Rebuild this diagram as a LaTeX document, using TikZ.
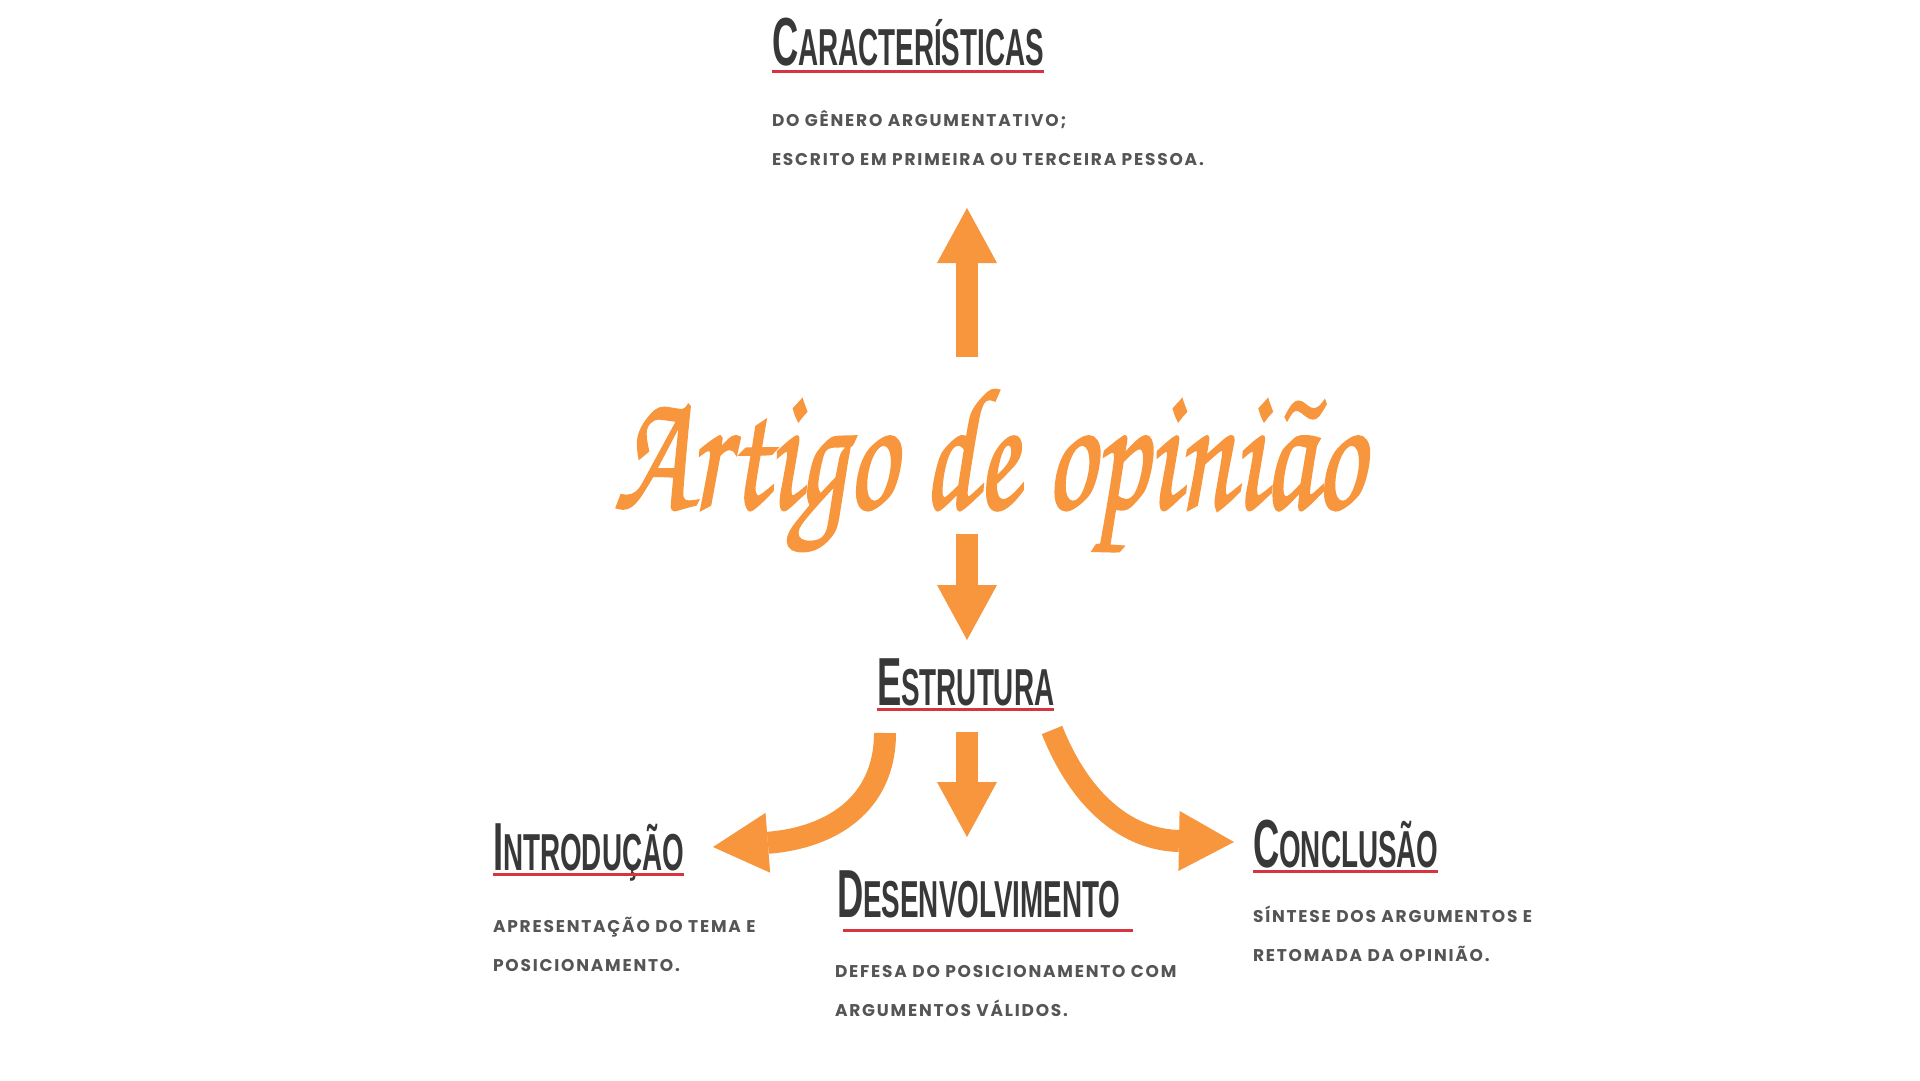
\documentclass[tikz,border=0pt]{standalone}
\usepackage{fontspec}
\usepackage{graphicx}
\usetikzlibrary{arrows.meta,calc}
\newfontfamily\titfont{Liberation Sans}[FakeStretch=0.535]
\newfontfamily\bodyfont{Poppins}[LetterSpace=10.5]
\newfontfamily\artfont{texgyrechorus-mediumitalic.otf}[FakeBold=1.5]
\definecolor{arrorange}{HTML}{F7963D}
\definecolor{titgray}{HTML}{383838}
\definecolor{bodygray}{HTML}{555555}
\definecolor{ulred}{HTML}{D8343F}
\newcommand\ttlt[2]{\fontsize{68}{68}\selectfont #1\fontsize{52}{52}\selectfont #2}
\tikzset{
  ttl/.style={anchor=base west, inner sep=0pt, outer sep=0pt, text=titgray, font=\titfont\bfseries},
  bodytxt/.style={anchor=base west, inner sep=0pt, outer sep=0pt, text=bodygray, font=\bodyfont\bfseries\fontsize{17}{17}\selectfont},
  uline/.style={draw=ulred, line width=3pt},
  bigarrow/.style={draw=arrorange, line width=22pt, -{Triangle[width=60pt,length=55pt,line width=0pt]}},
}
\begin{document}
\begin{tikzpicture}[x=1pt,y=-1pt]
\useasboundingbox[fill=white] (0,0) rectangle (1920,1080);

% central title
\node[anchor=base west, inner sep=0pt, outer sep=0pt, text=arrorange] (art) at (614,508)
  {\resizebox{749pt}{118pt}{\artfont Artigo de opinião}};

% Caracteristicas
\node[ttl] (carac) at (772,65) {\ttlt{C}{ARACTERÍSTICAS}};
\draw[uline] ($(carac.base west)+(0,6)$) -- ($(carac.base east)+(0,6)$);
\node[bodytxt] (carac1) at (772,126) {DO GÊNERO ARGUMENTATIVO;};
\node[bodytxt] (carac2) at (772,165) {ESCRITO EM PRIMEIRA OU TERCEIRA PESSOA.};

% Estrutura
\node[ttl] (estr) at (877,705) {\ttlt{E}{STRUTURA}};
\draw[uline] ($(estr.base west)+(0,4)$) -- ($(estr.base east)+(0,4)$);

% Introducao
\node[ttl] (intro) at (493,870) {\ttlt{I}{NTRODUÇÃO}};
\draw[uline] ($(intro.base west)+(0,4)$) -- ($(intro.base east)+(0,4)$);
\node[bodytxt] (intro1) at (493,932) {APRESENTAÇÃO DO TEMA E};
\node[bodytxt] (intro2) at (493,971) {POSICIONAMENTO.};

% Desenvolvimento
\node[ttl] (desen) at (837,917) {\ttlt{D}{ESENVOLVIMENTO}};
\draw[uline] ($(desen.base west)+(6,13)$) -- ($(desen.base east)+(13,13)$);
\node[bodytxt] (desen1) at (835,977) {DEFESA DO POSICIONAMENTO COM};
\node[bodytxt] (desen2) at (835,1016) {ARGUMENTOS VÁLIDOS.};

% Conclusao
\node[ttl] (concl) at (1253,867) {\ttlt{C}{ONCLUSÃO}};
\draw[uline] ($(concl.base west)+(0,4)$) -- ($(concl.base east)+(0,4)$);
\node[bodytxt] (concl1) at (1253,922) {SÍNTESE DOS ARGUMENTOS E};
\node[bodytxt] (concl2) at (1253,961) {RETOMADA DA OPINIÃO.};

% arrow end points
\coordinate (upS) at (967,357);
\coordinate (upE) at (967,208);
\coordinate (dnS) at (967,534);
\coordinate (dnE) at (967,640);
\coordinate (midS) at (967,732);
\coordinate (midE) at (967,837);
\coordinate (lS) at (885,733);
\coordinate (lE) at (713,847);
\coordinate (rS) at (1052,730);
\coordinate (rE) at (1234,842);

\draw[bigarrow] (upS) -- (upE);
\draw[bigarrow] (dnS) -- (dnE);
\draw[bigarrow] (midS) -- (midE);
\draw[bigarrow] (lS) .. controls (885,805) and (830,838) .. (lE);
\draw[bigarrow] (rS) .. controls (1082,805) and (1130,840) .. (rE);
\end{tikzpicture}
\end{document}
